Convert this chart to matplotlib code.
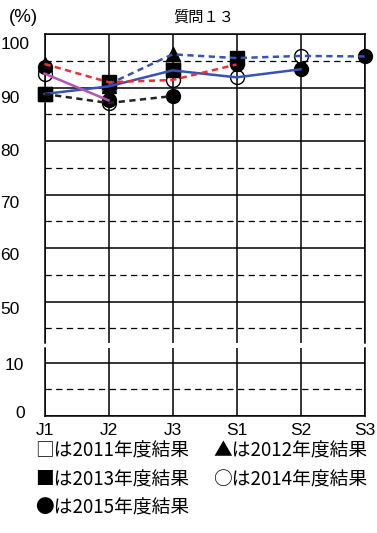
import numpy as np
import matplotlib
matplotlib.use("Agg")
import matplotlib.pyplot as plt
from matplotlib import font_manager
from matplotlib.transforms import ScaledTranslation

plt.rcParams['lines.scale_dashes'] = False

# ---------------- data ----------------
categories = ['J1', 'J2', 'J3', 'S1', 'S2', 'S3']
years = [2011, 2012, 2013, 2014, 2015]
nan = np.nan
v2011 = [88.8, 90.6, 93.6, nan, nan, nan]   # □
v2012 = [94.4, 90.2, 96.2, nan, nan, nan]   # ▲
v2013 = [88.8, 91.0, 93.2, 95.5, nan, nan]  # ■
v2014 = [92.6, 87.1, 91.4, 91.9, 95.9, nan] # ○
v2015 = [93.8, 87.6, 88.4, 94.3, 93.4, 95.8]# ●

# cohort lines: (start year, start grade index)
cohort_starts = [(2011, 0), (2011, 1), (2012, 0), (2013, 0), (2014, 0)]
cohort_colors = ['#3553b3', '#3553b3', '#ee3030', '#222222', '#b455b4']
cohort_solid = [True, False, False, False, True]

y_major_top = [50, 60, 70, 80, 90, 100]
y_minor_top = [45, 55, 65, 75, 85, 95]
y_major_bot = [0, 10]
y_minor_bot = [5]

legend_lines = [['□は2011年度結果', '▲は2012年度結果'],
                ['■は2013年度結果', '○は2014年度結果'],
                ['●は2015年度結果']]
title = '質問１３'
unit = '(%)'

# ---------------- fonts ----------------
avail = {f.name for f in font_manager.fontManager.ttflist}
narrow = 'Liberation Sans Narrow' if 'Liberation Sans Narrow' in avail else 'Liberation Sans'
cjk = ['Noto Sans CJK JP', 'DejaVu Sans']

# ---------------- figure ----------------
W, H = 377, 533
fig = plt.figure(figsize=(W / 100, H / 100), dpi=100)

def rect(x0, y0, x1, y1):
    return [x0 / W, 1 - y1 / H, (x1 - x0) / W, (y1 - y0) / H]

ppu = 5.35  # pixels per percent
ax_top = fig.add_axes(rect(44.5, 34, 364.5, 343))
ax_bot = fig.add_axes(rect(44.5, 348, 364.5, 416))
ax_top.set_ylim(100 - (343 - 34) / ppu, 100)
ax_bot.set_ylim(0, (416 - 348) / ppu)

vals = {2011: v2011, 2012: v2012, 2013: v2013, 2014: v2014, 2015: v2015}
x = np.arange(len(categories))
dash = (0, (4.5, 3.2))

for ax in (ax_top, ax_bot):
    ax.set_xlim(0, len(categories) - 1)
    ax.set_xticks(x)
    ax.tick_params(length=0, which='both')
    ax.grid(axis='x', color='black', lw=1.1)
    for s in ax.spines.values():
        s.set_linewidth(1.1)

ax_top.set_yticks(y_major_top)
ax_top.set_yticks(y_minor_top, minor=True)
ax_bot.set_yticks(y_major_bot)
ax_bot.set_yticks(y_minor_bot, minor=True)
for ax in (ax_top, ax_bot):
    ax.grid(axis='y', which='major', color='black', lw=1.1)
    ax.grid(axis='y', which='minor', color='black', lw=0.9, ls=dash)
    ax.set_axisbelow(True)

ax_top.spines['bottom'].set_visible(False)
ax_bot.spines['top'].set_visible(False)
ax_top.set_xticklabels([])
ax_bot.set_xticklabels(categories, fontsize=12.5, family=narrow)
ax_bot.tick_params(axis='x', pad=5)

# y tick labels with individual pixel offsets (dx right, dy down)
offs_top = {50: (0, 6), 60: (0, 6), 70: (0, 8), 80: (0, 9), 90: (0, 9), 100: (10, 9)}
offs_bot = {0: (5, -4), 10: (5, 1)}
for ax, ticks, offs in ((ax_top, y_major_top, offs_top), (ax_bot, y_major_bot, offs_bot)):
    ax.set_yticklabels([str(t) for t in ticks], fontsize=12.5, family=narrow)
    ax.tick_params(axis='y', pad=18)
    for t, lab in zip(ticks, ax.get_yticklabels()):
        dx, dy = offs[t]
        lab.set_transform(lab.get_transform() + ScaledTranslation(dx / 100, -dy / 100, fig.dpi_scale_trans))

# markers
mstyle = {
    2011: dict(marker='s', ms=9.5, mfc='none', mec='#666666', mew=1.0, zorder=3),
    2012: dict(marker='^', ms=10, mfc='black', mec='black', zorder=4),
    2014: dict(marker='o', ms=10, mfc='none', mec='black', mew=1.0, zorder=5),
    2015: dict(marker='o', ms=10, mfc='black', mec='black', zorder=6),
    2013: dict(marker='s', ms=9.5, mfc='black', mec='black', zorder=7),
}
for yr in [2011, 2012, 2014, 2015, 2013]:
    ax_top.plot(x, vals[yr], ls='none', clip_on=False, **mstyle[yr])

# cohort lines
for (y0, g0), col, solid in zip(cohort_starts, cohort_colors, cohort_solid):
    xs, ys = [], []
    for i, yr in enumerate(range(y0, years[-1] + 1)):
        g = g0 + i
        if g < len(categories) and not np.isnan(vals[yr][g]):
            xs.append(g)
            ys.append(vals[yr][g])
    ax_top.plot(xs, ys, color=col, lw=1.8, ls='-' if solid else (0, (4.5, 3.2)),
                zorder=8, clip_on=False)

# texts
fig.text(204 / W, 1 - 17 / H, title, ha='center', va='center', fontsize=11, family=cjk)
fig.text(9 / W, 1 - 17 / H, unit, ha='left', va='center', fontsize=13.5, family=narrow)

row_y = [451, 480, 508]
col_x = [35, 213]
for r, row in enumerate(legend_lines):
    for c, txt in enumerate(row):
        fig.text(col_x[c] / W, 1 - row_y[r] / H, txt, ha='left', va='center',
                 fontsize=13.5, family=cjk)

fig.savefig('out.png', dpi=100)
